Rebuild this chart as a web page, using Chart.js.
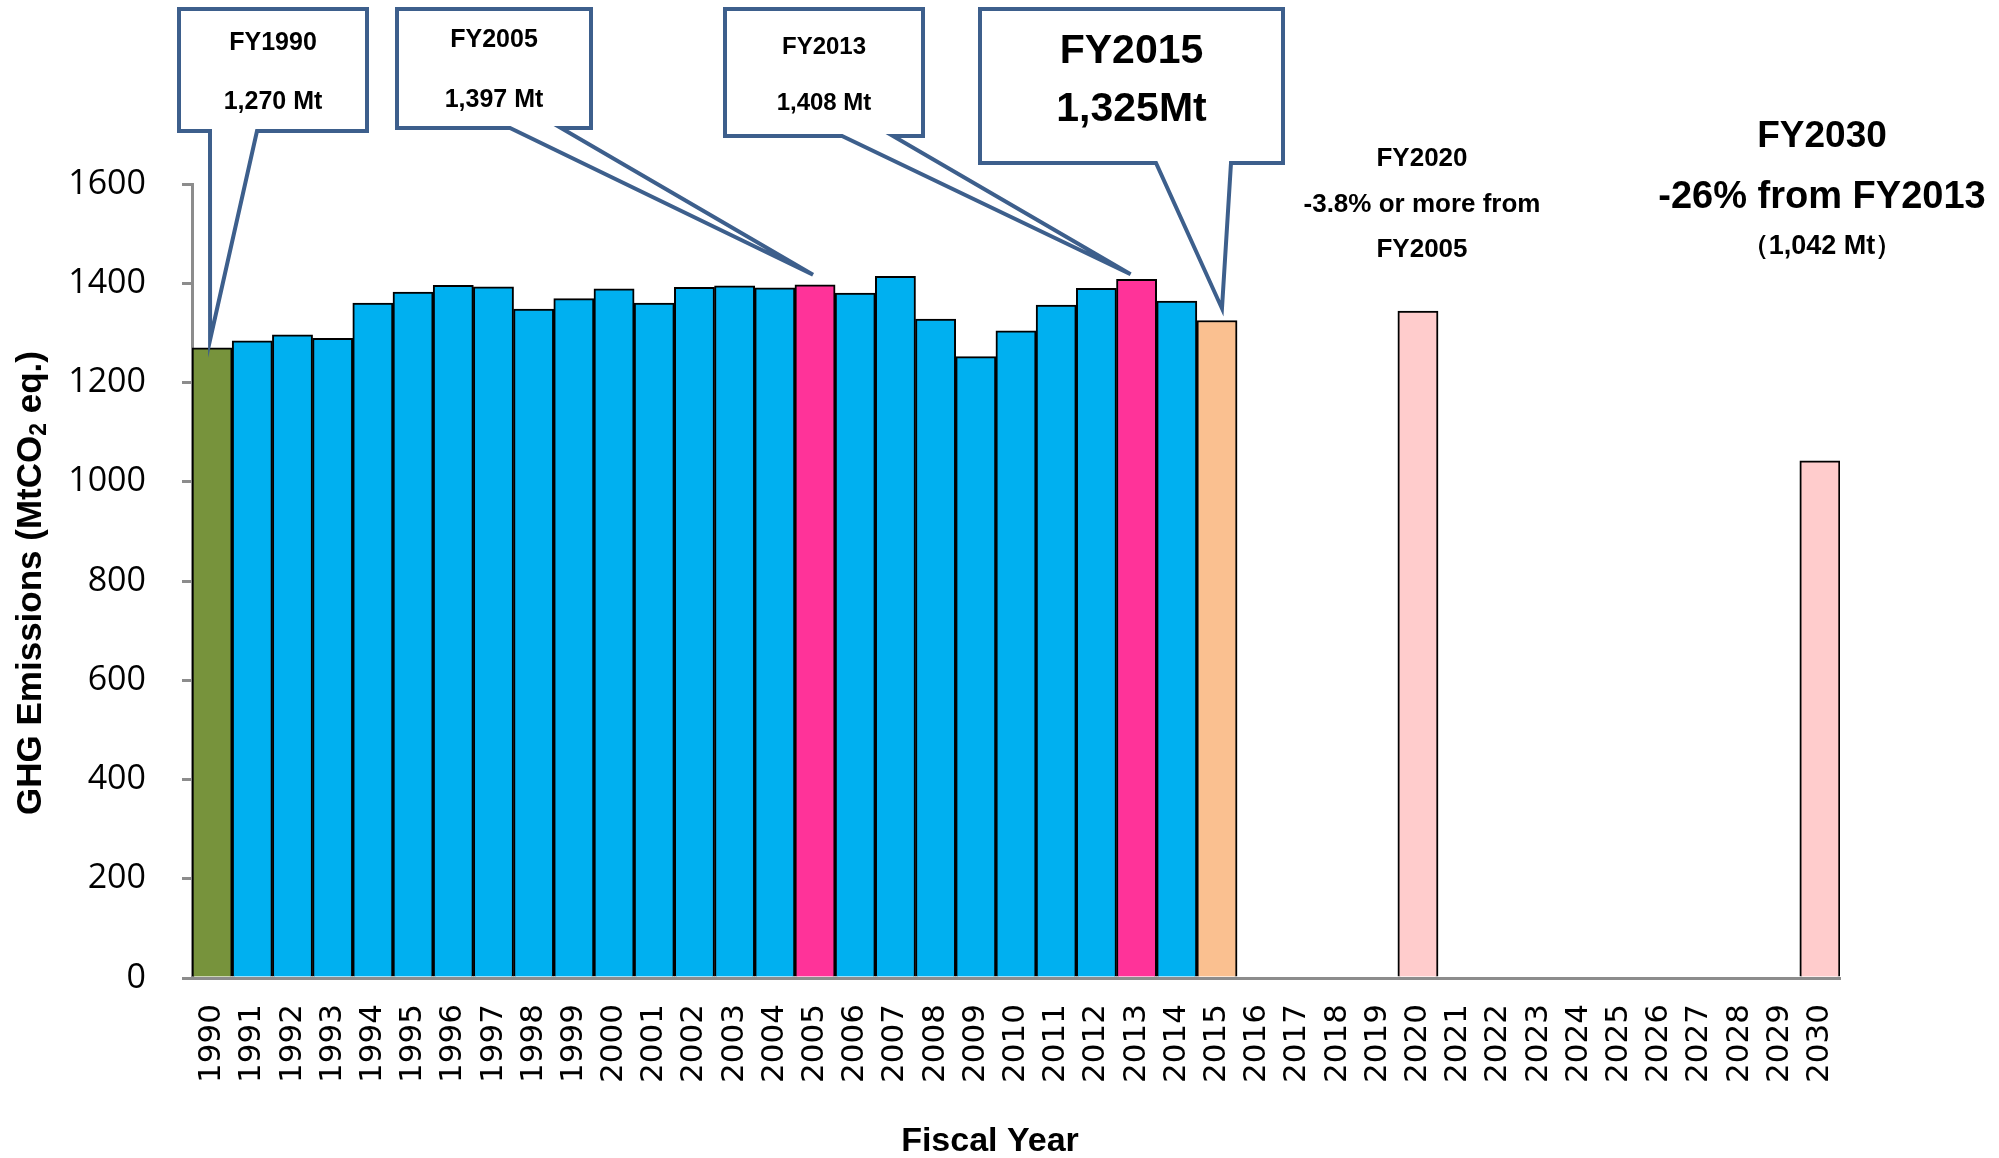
<!DOCTYPE html>
<html>
<head>
<meta charset="utf-8">
<script src="https://cdn.jsdelivr.net/npm/chart.js@4.4.1/dist/chart.umd.min.js"></script>
<style>
html,body{margin:0;padding:0;background:#fff;}
#wrap{width:1999px;height:1158px;position:relative;}
</style>
</head>
<body>
<div id="wrap"><canvas id="c" width="1999" height="1158"></canvas></div>
<script>
// ---- data ----
const years = ['1990','1991','1992','1993','1994','1995','1996','1997','1998','1999',
  '2000','2001','2002','2003','2004','2005','2006','2007','2008','2009',
  '2010','2011','2012','2013','2014','2015','2016','2017','2018','2019',
  '2020','2021','2022','2023','2024','2025','2026','2027','2028','2029','2030'];
const emissions = [1270,1284,1296,1289,1360,1382,1396,1393,1348,1369,
  1389,1360,1392,1395,1391,1397,1380,1414,1328,1252,
  1304,1356,1390,1408,1364,1325,null,null,null,null,
  1344,null,null,null,null,null,null,null,null,null,1042];
const yTicks = [0,200,400,600,800,1000,1200,1400,1600];

// ---- styles ----
const C_BASE = '#77933C', C_HIST = '#00B0F0', C_REF = '#FF3399', C_LATEST = '#FAC090', C_TARGET = '#FFCCCC';
const barColors = years.map(y => {
  if (y === '1990') return C_BASE;
  if (y === '2005' || y === '2013') return C_REF;
  if (y === '2015') return C_LATEST;
  if (y === '2020' || y === '2030') return C_TARGET;
  return C_HIST;
});

const NARROW = '"Liberation Sans Narrow","Liberation Sans",sans-serif';
const CALLOUT_BLUE = '#3D5F8C';

// callouts: year + label lines; geometry (px) kept separately
const callouts = [
  {year:'1990', lines:['FY1990','1,270 Mt'], size:25, box:[179,9,367,131], base:[210,257], tipDx:-2, tipDy:8, textY:[43,102]},
  {year:'2005', lines:['FY2005','1,397 Mt'], size:25, box:[397,9,591,128], base:[510,561], tipDx:-2, tipDy:10, textY:[40,100]},
  {year:'2013', lines:['FY2013','1,408 Mt'], size:24, box:[725,9,923,136], base:[842,893], tipDx:-6, tipDy:5, textY:[47,103]},
  {year:'2015', lines:['FY2015','1,325Mt'], size:41, box:[980,9,1283,163], base:[1156,1231], tipDx:5, tipDy:12, textY:[52,110]}
];
const notes = [
  {x:1422, items:[{t:'FY2020',y:159,s:26},{t:'-3.8% or more from',y:205,s:26},{t:'FY2005',y:250,s:26}]},
  {x:1822, items:[{t:'FY2030',y:137,s:37},{t:'-26% from FY2013',y:198,s:38},{t:'（1,042 Mt）',y:247,s:27}]}
];

const annotPlugin = {
  id:'annot',
  afterDatasetsDraw(chart){
    const ctx = chart.ctx, xs = chart.scales.x, ys = chart.scales.y;
    ctx.save();
    callouts.forEach(c => {
      const i = years.indexOf(c.year);
      const tx = xs.getPixelForValue(i) + c.tipDx;
      const ty = ys.getPixelForValue(emissions[i]) - c.tipDy;
      const [l,t,r,b] = c.box;
      ctx.beginPath();
      ctx.moveTo(l,t); ctx.lineTo(r,t); ctx.lineTo(r,b);
      ctx.lineTo(c.base[1],b); ctx.lineTo(tx,ty); ctx.lineTo(c.base[0],b);
      ctx.lineTo(l,b); ctx.closePath();
      ctx.fillStyle = '#fff'; ctx.fill();
      ctx.lineWidth = 4; ctx.lineJoin = 'miter'; ctx.strokeStyle = CALLOUT_BLUE; ctx.stroke();
      ctx.fillStyle = '#000'; ctx.textAlign = 'center'; ctx.textBaseline = 'middle';
      ctx.font = 'bold ' + c.size + 'px ' + NARROW;
      c.lines.forEach((s,k) => ctx.fillText(s, (l+r)/2, c.textY[k]));
    });
    notes.forEach(n => {
      n.items.forEach(it => {
        ctx.fillStyle = '#000'; ctx.textAlign = 'center'; ctx.textBaseline = 'middle';
        ctx.font = 'bold ' + it.s + 'px ' + NARROW;
        ctx.fillText(it.t, n.x, it.y);
      });
    });
    // x-axis title
    ctx.font = 'bold 34px ' + NARROW;
    ctx.fillText('Fiscal Year', 990, 1142);
    // y-axis title with subscript
    const ca = chart.chartArea;
    const cy = (ca.top + ca.bottom)/2 + 2;
    ctx.translate(31, cy);
    ctx.rotate(-Math.PI/2);
    ctx.textBaseline = 'middle'; ctx.textAlign = 'left';
    const f1 = 'bold 35px ' + NARROW, f2 = 'bold 23px ' + NARROW;
    const p1 = 'GHG Emissions (MtCO', p2 = '2', p3 = ' eq.)';
    ctx.font = f1; const w1 = ctx.measureText(p1).width, w3 = ctx.measureText(p3).width;
    ctx.font = f2; const w2 = ctx.measureText(p2).width;
    let x0 = -(w1+w2+w3)/2;
    ctx.font = f1; ctx.fillText(p1, x0, 0);
    ctx.font = f2; ctx.fillText(p2, x0+w1, 9);
    ctx.font = f1; ctx.fillText(p3, x0+w1+w2, 0);
    ctx.restore();
  }
};

new Chart(document.getElementById('c'), {
  type:'bar',
  data:{
    labels: years,
    datasets:[{
      data: emissions,
      backgroundColor: barColors,
      borderColor:'#000',
      borderWidth:2,
      barPercentage:1,
      categoryPercentage:1
    }]
  },
  options:{
    responsive:false,
    animation:false,
    devicePixelRatio:1,
    layout:{padding:{top:184,right:159,left:0,bottom:0}},
    plugins:{legend:{display:false}, tooltip:{enabled:false}, title:{display:false}},
    scales:{
      x:{
        grid:{display:false, drawTicks:false},
        border:{display:true, color:'#8C8C8C', width:3},
        ticks:{minRotation:90, maxRotation:90, autoSkip:false, padding:26, color:'#000',
          font:{family:'"DejaVu Sans",sans-serif', size:31}},
        afterFit(s){ s.height = 180; }
      },
      y:{
        min:0, max:1600,
        afterBuildTicks(s){ s.ticks = yTicks.map(v => ({value:v})); },
        grid:{display:true, drawOnChartArea:false, drawTicks:true, tickLength:10, color:'#8C8C8C', lineWidth:3},
        border:{display:true, color:'#8C8C8C', width:3},
        ticks:{padding:36, color:'#000', font:{family:'"Open Sans",sans-serif', size:34},
          callback:(v) => String(v)},
        afterFit(s){ s.width = 192; }
      }
    }
  },
  plugins:[annotPlugin]
});
</script>
</body>
</html>
